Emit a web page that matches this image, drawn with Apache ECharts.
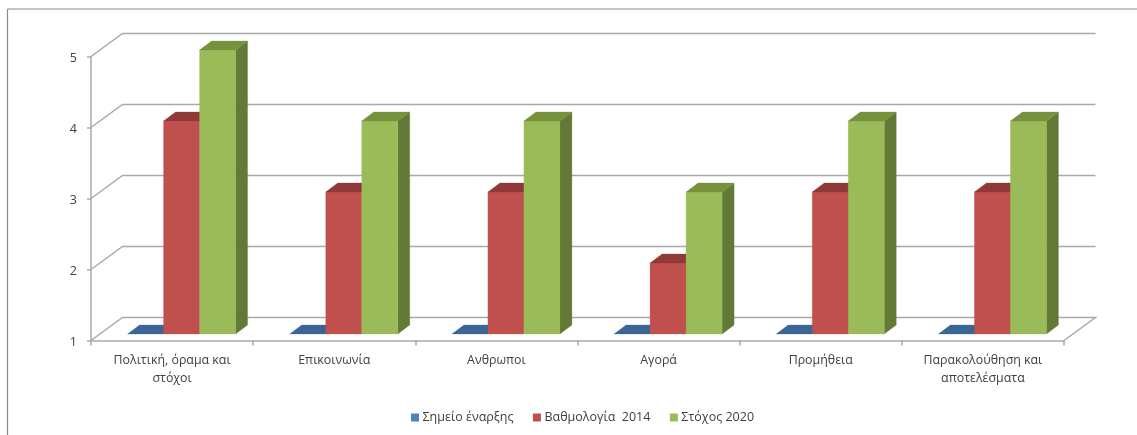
<!DOCTYPE html>
<html><head><meta charset="utf-8">
<style>html,body{margin:0;padding:0;background:#fff}#c{width:1137px;height:435px}</style>
<script src="https://cdn.jsdelivr.net/npm/echarts@6/dist/echarts.min.js"></script>
</head><body><div id="c"></div>
<script>
const categories = ['Πολιτική, όραμα και\nστόχοι','Επικοινωνία','Ανθρωποι','Αγορά','Προμήθεια','Παρακολούθηση και\nαποτελέσματα'];
const start = [1,1,1,1,1,1];
const score2014 = [4,3,3,2,3,3];
const target2020 = [5,4,4,3,4,4];
const yTicks = [1,2,3,4,5];
const seriesNames = ['Σημείο έναρξης','Βαθμολογία  2014','Στόχος 2020'];

const WALL_DX = 31.5, WALL_DY = -23;      // depth of the chart box
const BAR_DX = 12, BAR_DY = -9;           // depth of each bar
const FRONT_DY = -6.5, GROUP_SHIFT = 9.5; // bar plane inside the box
const BAR_W = 36;
const AXIS = '#a9a9a9';

function barSeries(name, values, slot, front, top, side) {
  return {
    name, type: 'custom', coordinateSystem: 'cartesian2d', clip: false,
    itemStyle: {color: front}, z: 3 + slot,
    encode: {x: 0, y: 1},
    data: values.map((v, i) => [i, v]),
    renderItem(params, api) {
      const base = api.coord([api.value(0), 1]);
      const head = api.coord([api.value(0), api.value(1)]);
      const x0 = base[0] + GROUP_SHIFT + (slot - 1.5) * BAR_W;
      const x1 = x0 + BAR_W;
      const yb = base[1] + FRONT_DY, yt = head[1] + FRONT_DY;
      const poly = (pts, fill) => ({type: 'polygon', shape: {points: pts}, style: {fill, stroke: fill, lineWidth: 0.3}});
      const children = [];
      if (yb - yt > 0.5) {
        children.push(poly([[x1,yt],[x1+BAR_DX,yt+BAR_DY],[x1+BAR_DX,yb+BAR_DY],[x1,yb]], side));
        children.push(poly([[x0,yt],[x1,yt],[x1,yb],[x0,yb]], front));
      }
      children.push(poly([[x0,yt],[x1,yt],[x1+BAR_DX,yt+BAR_DY],[x0+BAR_DX,yt+BAR_DY]], top));
      return {type: 'group', children};
    }
  };
}

const wallSeries = {
  name: 'walls', type: 'custom', coordinateSystem: 'cartesian2d', clip: false, silent: true, z: 1,
  encode: {y: 0},
  data: yTicks.map(v => [v]),
  renderItem(params, api) {
    const v = api.value(0);
    const rect = params.coordSys;
    const y = api.coord([0, v])[1];
    const xl = rect.x, xr = rect.x + rect.width;
    const pts = [[xl, y], [xl + WALL_DX, y + WALL_DY], [xr + WALL_DX, y + WALL_DY]];
    if (v === yTicks[0]) pts.push([xr, y]);
    return {type: 'polyline', shape: {points: pts}, style: {stroke: AXIS, lineWidth: 1.5, fill: null}};
  }
};

const chart = echarts.init(document.getElementById('c'), null, {renderer: 'canvas'});
chart.setOption({
  animation: false,
  backgroundColor: '#fff',
  textStyle: {fontFamily: 'Open Sans'},
  grid: {left: 91, right: 73, top: 56.5, bottom: 94.5},
  xAxis: {
    type: 'category', data: categories, boundaryGap: true,
    axisLine: {lineStyle: {color: AXIS, width: 1.5}},
    axisTick: {show: true, alignWithLabel: false, length: 5, lineStyle: {color: AXIS, width: 1.5}},
    axisLabel: {color: '#404040', fontSize: 12.4, margin: 11, lineHeight: 18, interval: 0, fontFamily: 'Open Sans'},
    splitLine: {show: false}
  },
  yAxis: {
    type: 'value', min: 1, max: 5, interval: 1,
    axisLine: {show: true, lineStyle: {color: AXIS, width: 1.5}},
    axisTick: {show: true, length: 4, lineStyle: {color: AXIS, width: 1.5}},
    axisLabel: {color: '#404040', fontSize: 12.5, margin: 14, verticalAlign: 'top', lineHeight: 3, fontFamily: 'Open Sans'},
    splitLine: {show: false}
  },
  legend: {
    data: seriesNames, left: 406, top: 406, itemWidth: 8, itemHeight: 8, itemGap: 19.5, icon: 'rect',
    textStyle: {color: '#404040', fontSize: 12.5, fontFamily: 'Open Sans', padding: [0,0,0,-1.5]}
  },
  graphic: [
    {type: 'line', shape: {x1: 7.5, y1: 9, x2: 1137, y2: 9}, style: {stroke: '#8a8a8a', lineWidth: 1.2}, silent: true},
    {type: 'line', shape: {x1: 7.5, y1: 9, x2: 7.5, y2: 435}, style: {stroke: '#8a8a8a', lineWidth: 1.2}, silent: true}
  ],
  series: [
    wallSeries,
    barSeries(seriesNames[0], start, 0, '#4f81bd', '#3b6595', '#2f5078'),
    barSeries(seriesNames[1], score2014, 1, '#c0504d', '#8f3a38', '#8f3a38'),
    barSeries(seriesNames[2], target2020, 2, '#9bbb59', '#76923c', '#637a36')
  ]
});
</script></body></html>
